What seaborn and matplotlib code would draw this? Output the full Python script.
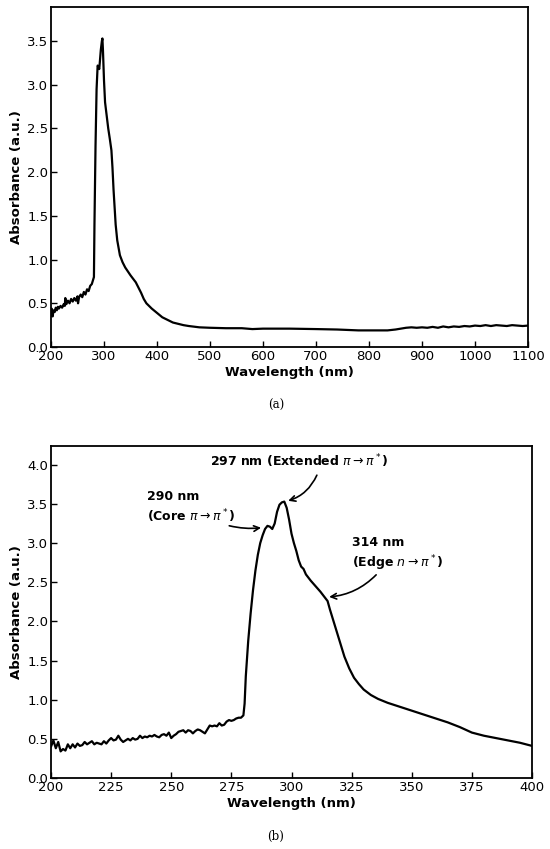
import matplotlib
matplotlib.use("Agg")
import matplotlib.pyplot as plt
import seaborn as sns
import pandas as pd

# full spectrum, 200-1100 nm
wl_full = [200, 201, 203, 205, 207, 209, 211, 213, 215, 218, 221, 224, 226, 227, 229, 232,
           235, 238, 241, 244, 247, 250, 251, 253, 256, 259, 262, 265, 268, 271, 274, 277,
           279, 281, 282, 284, 286, 288, 290, 291, 292, 294, 296, 297, 298, 300, 302, 305,
           308, 311, 314, 316, 318, 320, 322, 325, 330, 335, 340, 350, 360, 365, 370, 375,
           380, 390, 400, 410, 420, 430, 440, 450, 460, 480, 500, 530, 560, 570, 580, 600,
           650, 700, 740, 760, 780, 800, 820, 835, 850, 870, 880, 890, 900, 910, 920, 930,
           940, 950, 960, 970, 980, 990, 1000, 1010, 1020, 1030, 1040, 1050, 1060, 1070,
           1080, 1090, 1100]
abs_full = [0.36, 0.44, 0.35, 0.42, 0.40, 0.45, 0.42, 0.46, 0.44, 0.47, 0.45, 0.49, 0.47, 0.56,
            0.49, 0.53, 0.50, 0.55, 0.52, 0.56, 0.53, 0.58, 0.50, 0.57, 0.60, 0.57, 0.63, 0.60,
            0.66, 0.64, 0.70, 0.72, 0.76, 0.80, 1.40, 2.30, 2.95, 3.22, 3.20, 3.18, 3.25, 3.40,
            3.50, 3.53, 3.40, 3.05, 2.80, 2.65, 2.50, 2.38, 2.25, 2.05, 1.80, 1.60, 1.40, 1.22,
            1.05, 0.97, 0.91, 0.82, 0.74, 0.68, 0.62, 0.55, 0.50, 0.44, 0.39, 0.34, 0.31, 0.28,
            0.265, 0.25, 0.24, 0.225, 0.22, 0.215, 0.215, 0.21, 0.205, 0.21, 0.21, 0.205, 0.2,
            0.195, 0.19, 0.19, 0.19, 0.19, 0.2, 0.22, 0.225, 0.22, 0.225, 0.22, 0.23, 0.22, 0.235,
            0.225, 0.235, 0.23, 0.24, 0.235, 0.245, 0.24, 0.25, 0.24, 0.25, 0.245, 0.24, 0.25,
            0.245, 0.24, 0.245]

# zoomed spectrum, 200-400 nm
wl_zoom = [200, 201, 202, 203, 204, 205, 206, 207, 208, 209, 210, 211, 212, 213, 214, 215,
           216, 217, 218, 219, 220, 221, 222, 223, 224, 225, 226, 227, 228, 229, 230, 231,
           232, 233, 234, 235, 236, 237, 238, 239, 240, 241, 242, 243, 244, 245, 246, 247,
           248, 249, 250, 251, 252, 253, 254, 255, 256, 257, 258, 259, 260, 261, 262, 263,
           264, 265, 266, 267, 268, 269, 270, 271, 272, 273, 274, 275, 276, 277, 278, 279,
           280, 280.5, 281, 282, 283, 284, 285, 286, 287, 288, 289, 290, 291, 292, 293, 294,
           295, 296, 297, 298, 299, 300, 301, 302, 303, 304, 305, 306, 307, 308, 310, 312,
           314, 315, 316, 318, 320, 322, 324, 326, 328, 330, 333, 336, 340, 345, 350, 355,
           360, 365, 370, 375, 380, 385, 390, 395, 400]
abs_zoom = [0.40, 0.48, 0.38, 0.46, 0.34, 0.37, 0.35, 0.43, 0.38, 0.43, 0.39, 0.44, 0.41, 0.42,
            0.46, 0.43, 0.45, 0.47, 0.43, 0.45, 0.44, 0.43, 0.47, 0.44, 0.48, 0.51, 0.48, 0.49,
            0.54, 0.49, 0.46, 0.48, 0.50, 0.48, 0.51, 0.49, 0.50, 0.54, 0.51, 0.53, 0.52, 0.54,
            0.53, 0.55, 0.53, 0.52, 0.55, 0.56, 0.54, 0.58, 0.51, 0.54, 0.56, 0.59, 0.60, 0.61,
            0.58, 0.61, 0.60, 0.57, 0.60, 0.62, 0.61, 0.59, 0.57, 0.62, 0.67, 0.66, 0.67, 0.66,
            0.70, 0.67, 0.68, 0.72, 0.74, 0.73, 0.74, 0.76, 0.77, 0.77, 0.80, 0.95, 1.30, 1.75,
            2.10, 2.40, 2.65, 2.85, 3.00, 3.10, 3.18, 3.22, 3.21, 3.18, 3.25, 3.40, 3.49, 3.52,
            3.53, 3.45, 3.30, 3.12, 3.00, 2.90, 2.78, 2.70, 2.67, 2.60, 2.56, 2.52, 2.45, 2.38,
            2.30, 2.26, 2.15, 1.95, 1.75, 1.55, 1.40, 1.28, 1.20, 1.13, 1.06, 1.01, 0.96, 0.91,
            0.86, 0.81, 0.76, 0.71, 0.65, 0.58, 0.54, 0.51, 0.48, 0.45, 0.41]

# peak annotations: label, peak x, peak y, text x, text y, arrow tail x, arrow tail y, curvature
peak_labels = ["297 nm (Extended $\\pi\\rightarrow\\pi^*$)",
               "290 nm\n(Core $\\pi\\rightarrow\\pi^*$)",
               "314 nm\n(Edge $n\\rightarrow\\pi^*$)"]
peak_x = [297.5, 288.5, 314.5]
peak_y = [3.53, 3.20, 2.31]
text_x = [266, 240, 325]
text_y = [4.05, 3.45, 2.85]
tail_x = [311, 273, 336]
tail_y = [3.9, 3.23, 2.62]
arc_rad = [-0.25, 0.1, -0.2]

sns.set_style("ticks")
plt.rcParams["font.family"] = ["DejaVu Sans"]
plt.rcParams["text.color"] = "black"
plt.rcParams["axes.labelcolor"] = "black"
plt.rcParams["xtick.color"] = "black"
plt.rcParams["ytick.color"] = "black"

fig = plt.figure(figsize=(5.5, 8.49), dpi=100)
W, H = 550, 849
ax1 = fig.add_axes([51 / W, 1 - 347 / H, (528 - 51) / W, (347 - 7) / H])
ax2 = fig.add_axes([51 / W, 1 - 778 / H, (532 - 51) / W, (778 - 446) / H])

df_full = pd.DataFrame({"wl": wl_full, "abs": abs_full})
df_zoom = pd.DataFrame({"wl": wl_zoom, "abs": abs_zoom})

sns.lineplot(data=df_full, x="wl", y="abs", ax=ax1, color="black", linewidth=1.6)
sns.lineplot(data=df_zoom, x="wl", y="abs", ax=ax2, color="black", linewidth=1.6)

ax1.set_xlim(200, 1100)
ax1.set_ylim(0, 3.89)
ax1.set_xticks(range(200, 1101, 100))
ax1.set_yticks([0, 0.5, 1.0, 1.5, 2.0, 2.5, 3.0, 3.5])

ax2.set_xlim(200, 400)
ax2.set_ylim(0, 4.24)
ax2.set_xticks(range(200, 401, 25))
ax2.set_yticks([0, 0.5, 1.0, 1.5, 2.0, 2.5, 3.0, 3.5, 4.0])

for ax in (ax1, ax2):
    ax.set_xlabel("Wavelength (nm)", fontsize=9.5, fontweight="bold", labelpad=2)
    ax.set_ylabel("Absorbance (a.u.)", fontsize=9.5, fontweight="bold", labelpad=3)
    ax.tick_params(direction="in", length=4, width=1, labelsize=9.5, pad=2)
    ax.yaxis.set_major_formatter(matplotlib.ticker.FormatStrFormatter("%.1f"))
    for s in ax.spines.values():
        s.set_linewidth(1.3)
        s.set_color("black")

for i in range(len(peak_labels)):
    ax2.text(text_x[i], text_y[i], peak_labels[i], fontsize=9, fontweight="bold",
             va="center", ha="left", linespacing=1.3)
    ax2.annotate("", xy=(peak_x[i], peak_y[i]), xytext=(tail_x[i], tail_y[i]),
                 arrowprops=dict(arrowstyle="->", color="black", lw=1.2,
                                 connectionstyle=f"arc3,rad={arc_rad[i]}"))

fig.text(276 / W, 1 - 405 / H, "(a)", ha="center", va="center", fontsize=8.5, family="serif")
fig.text(276 / W, 1 - 836 / H, "(b)", ha="center", va="center", fontsize=8.5, family="serif")

fig.savefig("out.png", dpi=100)
